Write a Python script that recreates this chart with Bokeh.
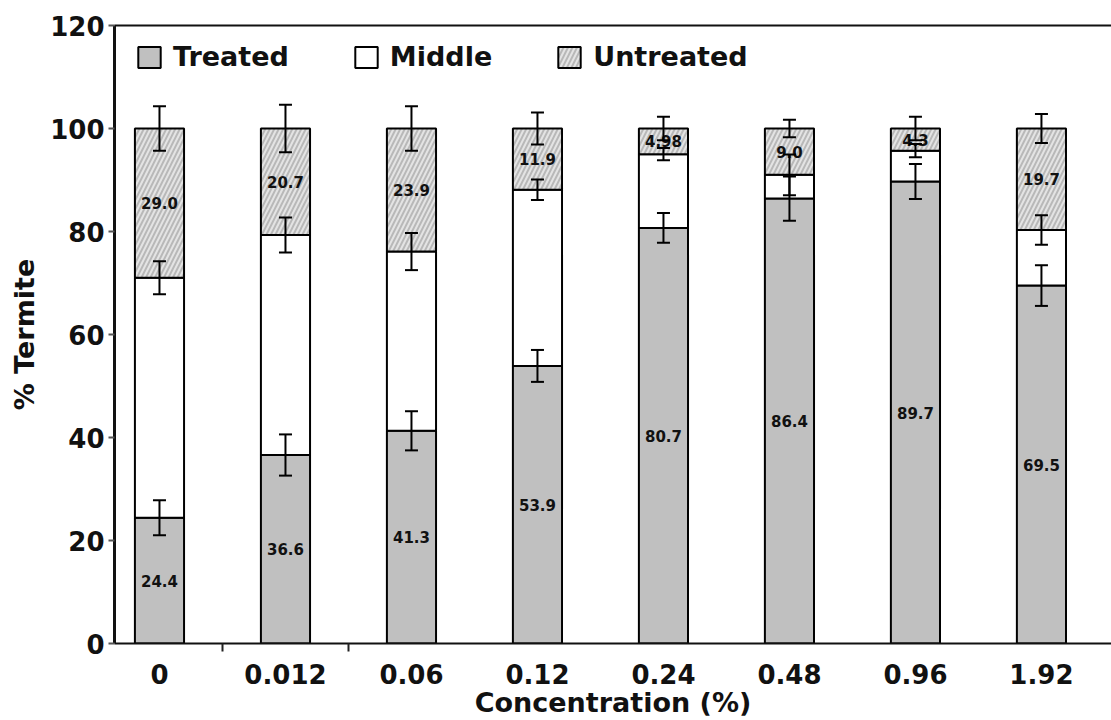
from bokeh.plotting import figure
from bokeh.models import (ColumnDataSource, Whisker, TeeHead, FixedTicker, LinearAxis,
                          Legend, LegendItem, Range1d)
from bokeh.core.properties import value
from bokeh.embed import file_html
from bokeh.resources import INLINE

# ---------------- data ----------------
concentrations = ["0", "0.012", "0.06", "0.12", "0.24", "0.48", "0.96", "1.92"]
treated = [24.4, 36.6, 41.3, 53.9, 80.7, 86.4, 89.7, 69.5]
untreated = [29.0, 20.7, 23.9, 11.9, 4.98, 9.0, 4.3, 19.7]
middle = [round(100 - t - u, 2) for t, u in zip(treated, untreated)]
treated_err = [3.4, 4.0, 3.8, 3.1, 2.9, 4.3, 3.4, 3.95]
middle_err = [3.2, 3.4, 3.6, 2.0, 1.2, 3.95, 1.3, 2.85]
untreated_err = [4.3, 4.6, 4.3, 3.1, 2.3, 1.7, 2.3, 2.8]
treated_labels = ["24.4", "36.6", "41.3", "53.9", "80.7", "86.4", "89.7", "69.5"]
untreated_labels = ["29.0", "20.7", "23.9", "11.9", "4.98", "9.0", "4.3", "19.7"]
y_ticks = [0, 20, 40, 60, 80, 100, 120]

FONT = "DejaVu Sans"
x = list(range(1, len(concentrations) + 1))
mid_top = [t + m for t, m in zip(treated, middle)]
tops = [t + m + u for t, m, u in zip(treated, middle, untreated)]

src = ColumnDataSource(dict(
    x=x, treated=treated, mid_top=mid_top, tops=tops,
    t_lo=[t - e for t, e in zip(treated, treated_err)],
    t_hi=[t + e for t, e in zip(treated, treated_err)],
    m_lo=[v - e for v, e in zip(mid_top, middle_err)],
    m_hi=[v + e for v, e in zip(mid_top, middle_err)],
    u_lo=[v - e for v, e in zip(tops, untreated_err)],
    u_hi=[v + e for v, e in zip(tops, untreated_err)],
    ty=[t / 2 for t in treated],
    uy=[mt + u / 2 for mt, u in zip(mid_top, untreated)],
    tl=treated_labels, ul=untreated_labels,
))

p = figure(width=1111, height=720, x_range=Range1d(0.643, 8.556), y_range=Range1d(0, 120),
           output_backend="svg", toolbar_location=None,
           min_border_left=114, min_border_right=0, min_border_top=25, min_border_bottom=0)
p.outline_line_color = None
p.grid.visible = False

W = 0.39
r_t = p.vbar(x="x", bottom=0, top="treated", width=W, source=src,
             fill_color="#c0c0c0", line_color="black", line_width=2)
r_m = p.vbar(x="x", bottom="treated", top="mid_top", width=W, source=src,
             fill_color="white", line_color="black", line_width=2)
r_u = p.vbar(x="x", bottom="mid_top", top="tops", width=W, source=src,
             fill_color="#b8b8b8", hatch_pattern="/", hatch_color="#e4e4e4",
             hatch_weight=2, hatch_scale=9, line_color="black", line_width=2)

for lo, hi in (("t_lo", "t_hi"), ("m_lo", "m_hi"), ("u_lo", "u_hi")):
    p.add_layout(Whisker(source=src, base="x", lower=lo, upper=hi, level="overlay",
                         line_color="black", line_width=2,
                         upper_head=TeeHead(size=13, line_color="black", line_width=2),
                         lower_head=TeeHead(size=13, line_color="black", line_width=2)))

t1 = p.text(x="x", y="ty", text="tl", source=src, text_font=value(FONT), text_font_style="bold",
            text_font_size="15px", text_align="center", text_baseline="middle", text_color="#111111")
t2 = p.text(x="x", y="uy", text="ul", source=src, text_font=value(FONT), text_font_style="bold",
            text_font_size="15px", text_align="center", text_baseline="middle", text_color="#111111")
t1.level = "overlay"
t2.level = "overlay"

# x axis
xa = p.xaxis[0]
xa.ticker = FixedTicker(ticks=x, minor_ticks=[1.5, 2.5])
xa.major_label_overrides = {i: c for i, c in zip(x, concentrations)}
xa.major_tick_out = 0
xa.major_tick_in = 0
xa.minor_tick_out = 8
xa.minor_tick_in = 0
xa.minor_tick_line_width = 2
xa.minor_tick_line_color = "#222222"
xa.axis_line_width = 2
xa.axis_line_color = "#111111"
xa.major_label_standoff = 12
xa.major_label_text_font = FONT
xa.major_label_text_font_style = "bold"
xa.major_label_text_font_size = "26px"
xa.major_label_text_color = "#111111"
xa.axis_label = "Concentration (%)"
xa.axis_label_text_font = FONT
xa.axis_label_text_font_style = "bold"
xa.axis_label_text_font_size = "27px"
xa.axis_label_text_color = "#111111"
xa.axis_label_standoff = 0

# y axis
ya = p.yaxis[0]
ya.ticker = FixedTicker(ticks=y_ticks)
ya.minor_tick_line_color = None
ya.major_tick_out = 6
ya.major_tick_in = 0
ya.major_tick_line_color = "#555555"
ya.major_tick_line_width = 2
ya.axis_line_width = 3
ya.axis_line_color = "#111111"
ya.major_label_standoff = 4
ya.major_label_text_font = FONT
ya.major_label_text_font_style = "bold"
ya.major_label_text_font_size = "26px"
ya.major_label_text_color = "#111111"
ya.axis_label = "% Termite"
ya.axis_label_text_font = FONT
ya.axis_label_text_font_style = "bold"
ya.axis_label_text_font_size = "27px"
ya.axis_label_text_color = "#111111"
ya.axis_label_standoff = 7

# top border line
top = LinearAxis(ticker=FixedTicker(ticks=[]), major_label_text_font_size="0px",
                 axis_line_width=2, axis_line_color="#111111",
                 major_tick_line_color=None, minor_tick_line_color=None)
p.add_layout(top, "above")

legend = Legend(items=[LegendItem(label="Treated", renderers=[r_t]),
                       LegendItem(label="Middle", renderers=[r_m]),
                       LegendItem(label="Untreated", renderers=[r_u])],
                orientation="horizontal", location=(21, 571),
                border_line_color=None, background_fill_alpha=0,
                label_text_font=FONT, label_text_font_style="bold",
                label_text_font_size="27px", label_text_color="#111111",
                glyph_width=28, glyph_height=26, spacing=63, label_standoff=10,
                padding=0, margin=0)
p.add_layout(legend)

open("out.html", "w").write(file_html(p, INLINE))
